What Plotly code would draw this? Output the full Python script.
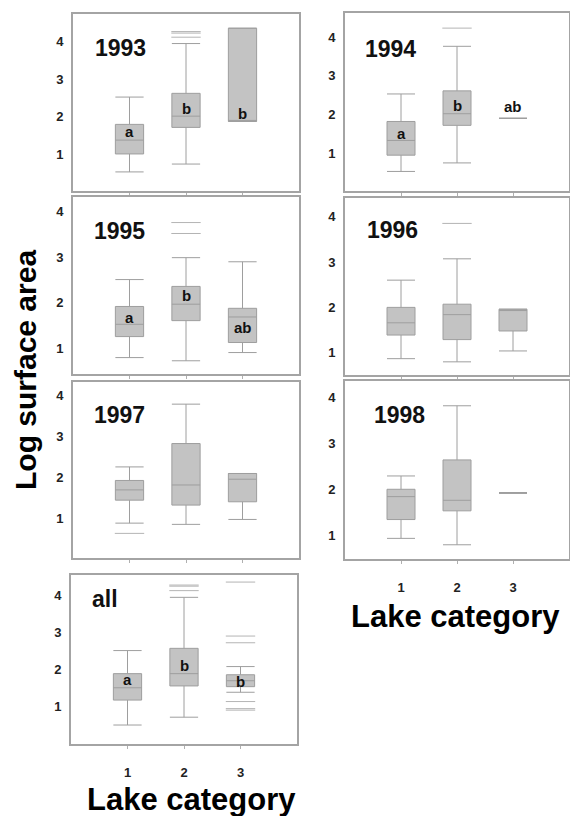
import plotly.graph_objects as go

# ---------------- data ----------------
panels = ["1993", "1994", "1995", "1996", "1997", "1998", "all"]
categories = [1, 2, 3]
y_ticks = [1, 2, 3, 4]
x_tick_labels = ["1", "2", "3"]

lower_fence = [
    [0.52, 0.73, 1.87],
    [0.53, 0.75, 1.90],
    [0.80, 0.73, 0.91],
    [0.87, 0.80, 1.04],
    [0.88, 0.85, 0.97],
    [0.93, 0.79, 1.92],
    [0.51, 0.72, 1.39],
]
q1 = [
    [1.00, 1.71, 1.87],
    [0.95, 1.72, 1.90],
    [1.26, 1.61, 1.13],
    [1.39, 1.29, 1.48],
    [1.44, 1.32, 1.40],
    [1.34, 1.53, 1.92],
    [1.18, 1.56, 1.54],
]
median = [
    [1.37, 2.01, 1.87],
    [1.33, 2.02, 1.90],
    [1.53, 1.97, 1.69],
    [1.66, 1.84, 1.93],
    [1.69, 1.81, 1.95],
    [1.84, 1.76, 1.92],
    [1.51, 1.89, 1.70],
]
q3 = [
    [1.79, 2.62, 4.36],
    [1.82, 2.61, 1.90],
    [1.92, 2.36, 1.88],
    [2.00, 2.07, 1.96],
    [1.92, 2.82, 2.09],
    [2.00, 2.64, 1.92],
    [1.89, 2.57, 1.86],
]
upper_fence = [
    [2.52, 3.95, 4.36],
    [2.53, 3.76, 1.90],
    [2.51, 2.99, 2.90],
    [2.60, 3.07, 1.96],
    [2.25, 3.78, 2.09],
    [2.29, 3.82, 1.92],
    [2.51, 3.94, 2.08],
]
outliers = [
    [[], [4.27, 4.23, 4.12], []],
    [[], [4.23], []],
    [[], [3.76, 3.52], []],
    [[], [3.85], []],
    [[0.63], [], []],
    [[], [], []],
    [[], [4.27, 4.24, 4.12], [4.35, 2.90, 2.72, 1.14, 0.95, 0.91]],
]
group_letters = [
    ["a", "b", "b"],
    ["a", "b", "ab"],
    ["a", "b", "ab"],
    None,
    None,
    None,
    ["a", "b", "b"],
]
letter_y = [
    [1.61, 2.21, 2.08],
    [1.50, 2.23, 2.21],
    [1.68, 2.15, 1.47],
    None,
    None,
    None,
    [1.72, 2.11, 1.67],
]
y_ranges = [
    [0.01, 4.74],
    [0.025, 4.62],
    [0.44, 4.32],
    [0.51, 4.41],
    [0.03, 4.32],
    [0.48, 4.36],
    [0.0, 4.54],
]

# ---------------- layout geometry (pixels) ----------------
W, H = 570, 816
x_px = [(73, 299), (345, 569), (73, 299), (345, 569), (73, 299), (345, 569), (71, 297)]
y_px = [(14, 191), (13, 191), (197, 374), (198, 375), (382, 558), (381, 559), (575, 744)]
label_pos = [(0.088, 0.81), (0.08, 0.80), (0.085, 0.81), (0.09, 0.82),
             (0.085, 0.81), (0.12, 0.81), (0.084, 0.86)]
show_xlabels = [False, False, False, False, False, True, True]

BOX_FILL = "#c3c3c3"
BOX_LINE = "#9e9e9e"
FRAME = "#a4a4a4"
TXT = "#1a1a1a"
FONT = "Liberation Sans, Arial, sans-serif"

fig = go.Figure()
layout = dict(
    width=W, height=H,
    margin=dict(l=0, r=0, t=0, b=0),
    paper_bgcolor="white", plot_bgcolor="white",
    showlegend=False,
    font=dict(family=FONT, color=TXT),
)
annotations = []

for i, name in enumerate(panels):
    n = "" if i == 0 else str(i + 1)
    xa, ya = "x" + n, "y" + n
    for j, c in enumerate(categories):
        fig.add_trace(go.Box(
            x=[c], q1=[q1[i][j]], median=[median[i][j]], q3=[q3[i][j]],
            lowerfence=[lower_fence[i][j]], upperfence=[upper_fence[i][j]],
            width=0.5, whiskerwidth=1, boxpoints=False,
            fillcolor=BOX_FILL, line=dict(color=BOX_LINE, width=1),
            xaxis=xa, yaxis=ya, hoverinfo="skip",
        ))
        if outliers[i][j]:
            fig.add_trace(go.Scatter(
                x=[c] * len(outliers[i][j]), y=outliers[i][j], mode="markers",
                marker=dict(symbol="line-ew", size=21,
                            line=dict(color="#b4b4b4", width=1)),
                xaxis=xa, yaxis=ya, hoverinfo="skip",
            ))
    x0, x1 = x_px[i]
    yt, yb = y_px[i]
    axis_common = dict(showline=True, mirror=True, linecolor=FRAME, linewidth=2,
                       showgrid=False, zeroline=False)
    layout["xaxis" + n] = dict(
        domain=[x0 / W, x1 / W], range=[0, 4], anchor=ya,
        tickvals=categories, ticktext=x_tick_labels,
        ticks="outside", ticklen=3, tickcolor="#b0b0b0", tickwidth=1,
        showticklabels=show_xlabels[i], ticklabelstandoff=12,
        tickfont=dict(size=13, weight="bold", color="#222222"),
        **axis_common,
    )
    layout["yaxis" + n] = dict(
        domain=[1 - yb / H, 1 - yt / H], range=y_ranges[i], anchor=xa,
        tickvals=y_ticks, ticks="", ticklabelstandoff=5,
        tickfont=dict(size=13, weight="bold", color="#222222"),
        **axis_common,
    )
    lx, ly = label_pos[i]
    annotations.append(dict(
        text=name, x=lx, y=ly, xref=xa + " domain", yref=ya + " domain",
        xanchor="left", yanchor="middle", showarrow=False,
        font=dict(size=23, weight="bold", color="#111111"),
    ))
    if group_letters[i]:
        for j, c in enumerate(categories):
            annotations.append(dict(
                text=group_letters[i][j], x=c, y=letter_y[i][j], xref=xa, yref=ya,
                xanchor="center", yanchor="middle", showarrow=False,
                font=dict(size=15, weight="bold", color="#111111"),
            ))

annotations.append(dict(
    text="Log surface area", x=26 / W, y=1 - 370 / H, xref="paper", yref="paper",
    textangle=-90, xanchor="center", yanchor="middle", showarrow=False,
    font=dict(size=30, weight="bold", color="#000000"),
))
annotations.append(dict(
    text="Lake category", x=455 / W, y=1 - 616 / H, xref="paper", yref="paper",
    xanchor="center", yanchor="middle", showarrow=False,
    font=dict(size=31, weight="bold", color="#000000"),
))
annotations.append(dict(
    text="Lake category", x=191 / W, y=1 - 799 / H, xref="paper", yref="paper",
    xanchor="center", yanchor="middle", showarrow=False,
    font=dict(size=31, weight="bold", color="#000000"),
))
layout["annotations"] = annotations
fig.update_layout(**layout)
fig.write_html(
    "out.html",
    config={"displayModeBar": False, "staticPlot": True},
    post_script="document.body.style.margin='0';document.body.style.padding='0';"
                "document.body.style.overflow='hidden';",
)
